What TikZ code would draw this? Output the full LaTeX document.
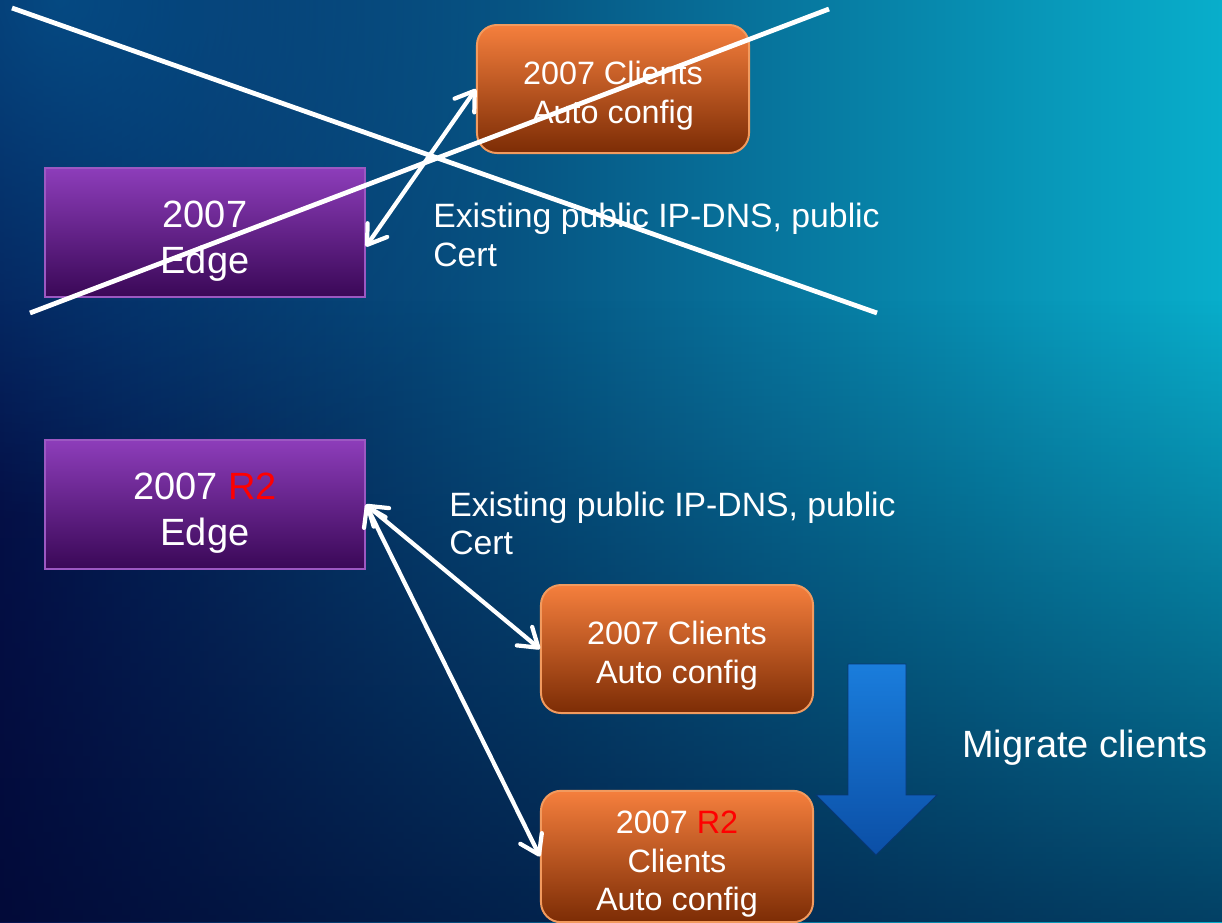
\documentclass[tikz,border=0pt]{standalone}
\usepackage{fontspec}
\setmainfont{Liberation Sans}
\usetikzlibrary{arrows.meta,fadings}
\definecolor{bgnavy}{HTML}{05124D}
\definecolor{bgmid}{HTML}{065E96}
\definecolor{bgcyan}{HTML}{08AECB}
\definecolor{bgdeep}{HTML}{01062E}
\definecolor{orangetop}{HTML}{F57F3D}
\definecolor{orangebot}{HTML}{7C2C05}
\definecolor{orangeline}{HTML}{F29A5E}
\definecolor{purpletop}{HTML}{8D3DBA}
\definecolor{purplebot}{HTML}{3A0857}
\definecolor{purpleline}{HTML}{9C58C2}
\definecolor{arrowtop}{HTML}{1A7DDC}
\definecolor{arrowbot}{HTML}{0B4FA6}
\tikzfading[name=glowfade, inner color=transparent!0, outer color=transparent!100]
\newcommand{\rtwo}{\textcolor{red}{R2}}
\tikzset{
  clientbox/.style={draw=orangeline, line width=1.4pt, rounded corners=0.5cm,
    top color=orangetop, bottom color=orangebot, text=white, align=center,
    minimum width=6.8cm, minimum height=3.2cm, text height=54pt,
    font=\fontsize{23}{27.5}\selectfont},
  edgebox/.style={draw=purpleline, line width=1.2pt,
    top color=purpletop, bottom color=purplebot, text=white, align=center,
    minimum width=8cm, minimum height=3.22cm, text height=64pt,
    font=\fontsize{27}{33}\selectfont},
  notetext/.style={text=white, align=left, anchor=west, inner sep=0pt,
    font=\fontsize{24}{27.6}\selectfont},
  link/.style={draw=white, line width=3pt, line cap=round,
    >={Straight Barb[length=4.5mm,width=6mm,round]}, <->},
  strike/.style={draw=white, line width=3.4pt}
}
\begin{document}
\begin{tikzpicture}[x=0.025cm,y=-0.025cm]
  \useasboundingbox (0,0) rectangle (1222,922);
  % background
  \shade[left color=bgnavy, middle color=bgmid, right color=bgcyan] (0,0) rectangle (1222,922);
  \fill[bgdeep, fill opacity=0.65, path fading=north] (0,300) rectangle (1222,922);
  \fill[bgmid, fill opacity=0.7, path fading=glowfade] (60,0) circle (520);

  % old edge, struck out
  \node[clientbox] (client1) at (613,89) {2007 Clients\\Auto config};
  \node[edgebox] (edge1) at (205,232.5) {2007\\Edge};
  \node[notetext] (note1) at (433,235) {Existing public IP-DNS, public\\Cert};
  \draw[link] (edge1.-5) -- (client1.west);
  \draw[strike] (12,8) -- (877,313);
  \draw[strike] (30,313) -- (829,9);

  % R2 edge
  \node[edgebox] (edge2) at (205,504.5) {2007 \rtwo\\Edge};
  \node[notetext] (note2) at (449,523.5) {Existing public IP-DNS, public\\Cert};
  \node[clientbox] (client2) at (677,649) {2007 Clients\\Auto config};
  \node[clientbox, text height=82pt] (client3) at (677,856.5) {2007 \rtwo\\Clients\\Auto config};
  \draw[link] (edge2.east) -- (client2.west);
  \draw[link] (edge2.east) -- (client3.west);

  % migration arrow
  \shade[top color=arrowtop, bottom color=arrowbot, draw=arrowbot!70!black, line width=0.6pt]
    (848,664) -- (906,664) -- (906,795) -- (937,795) -- (876,855) -- (816,795) -- (848,795) -- cycle;
  \node[notetext, font=\fontsize{27}{32}\selectfont] (migrate) at (962,748) {Migrate clients};
\end{tikzpicture}
\end{document}
